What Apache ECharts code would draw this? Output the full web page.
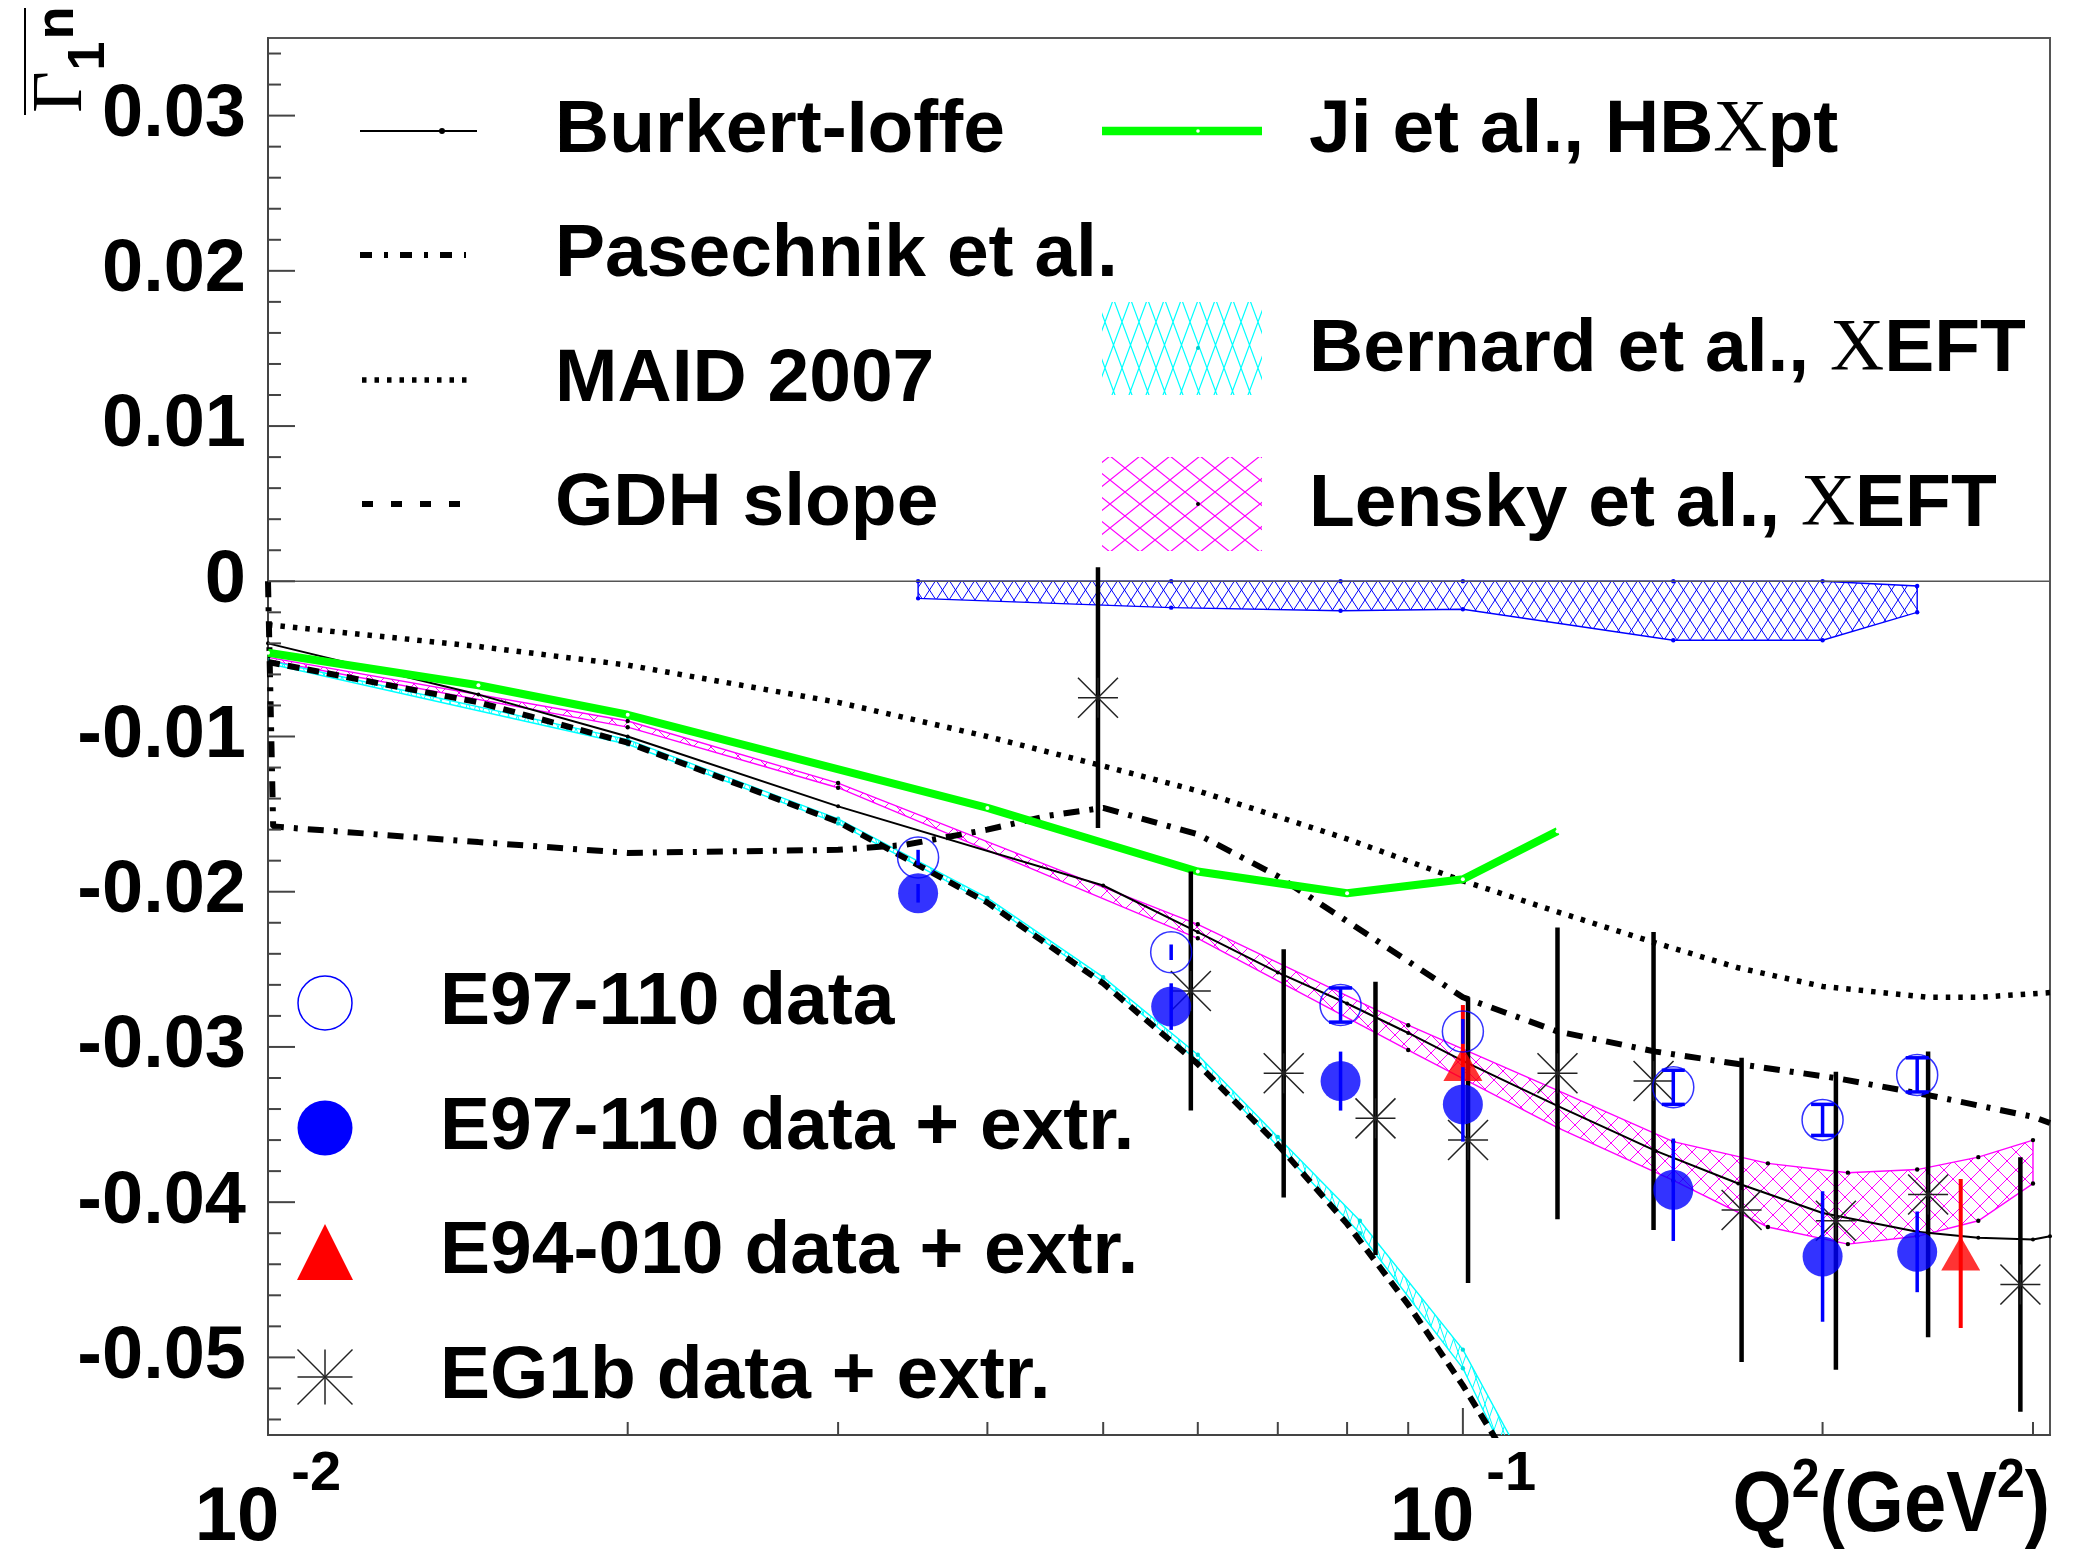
<!DOCTYPE html>
<html><head><meta charset="utf-8"><title>Gamma1n</title>
<script src="https://cdn.jsdelivr.net/npm/echarts@6/dist/echarts.min.js"></script>
<style>html,body{margin:0;padding:0;background:#fff;} #c{width:2077px;height:1557px;}</style>
</head><body><div id="c"></div>
<script>
// ---------------- data ----------------
const burkertQ2 = [0.01, 0.015, 0.02, 0.03, 0.05, 0.06, 0.07, 0.08, 0.09, 0.1, 0.12, 0.145, 0.17, 0.2, 0.24, 0.27, 0.3, 0.31];
const burkertG1 = [-0.0040, -0.0073, -0.0100, -0.0145, -0.0196, -0.0226, -0.0252, -0.0272, -0.0291, -0.0309, -0.0338, -0.0367, -0.0388, -0.0407, -0.0419, -0.0423, -0.0424, -0.0422];

const jiQ2 = [0.01, 0.015, 0.02, 0.04, 0.06, 0.08, 0.1, 0.12];
const jiG1 = [-0.0046, -0.0067, -0.0086, -0.0146, -0.0187, -0.0201, -0.0192, -0.0161];

const pasechnikQ2 = [0.01, 0.0101, 0.015, 0.02, 0.03, 0.034, 0.04, 0.045, 0.05, 0.06, 0.07, 0.08, 0.1, 0.12, 0.145, 0.17, 0.205, 0.245, 0.3, 0.31];
const pasechnikG1 = [0.0, -0.0158, -0.0168, -0.0175, -0.0173, -0.0170, -0.0160, -0.0151, -0.0146, -0.0163, -0.0190, -0.0219, -0.0268, -0.0290, -0.0303, -0.0311, -0.0320, -0.0331, -0.0345, -0.0349];

const maidQ2 = [0.01, 0.015, 0.02, 0.03, 0.04, 0.05, 0.06, 0.08, 0.1, 0.12, 0.145, 0.17, 0.2, 0.245, 0.27, 0.31];
const maidG1 = [-0.0028, -0.0042, -0.0054, -0.0078, -0.0100, -0.0119, -0.0135, -0.0166, -0.0193, -0.0213, -0.0233, -0.0249, -0.0261, -0.0268, -0.0268, -0.0265];

const gdhQ2 = [0.01, 0.015, 0.02, 0.03, 0.04, 0.05, 0.06, 0.07, 0.08, 0.09, 0.1, 0.11];
const gdhG1 = [-0.0052, -0.0078, -0.0104, -0.0155, -0.0207, -0.0259, -0.0311, -0.0363, -0.0414, -0.0466, -0.0518, -0.0570];

const bernardQ2 = [0.01, 0.02, 0.03, 0.04, 0.05, 0.06, 0.07, 0.082, 0.1, 0.112];
const bernardHi = [-0.0051, -0.0102, -0.0153, -0.0204, -0.0255, -0.0305, -0.0358, -0.0412, -0.0495, -0.0565];
const bernardLo = [-0.0053, -0.0105, -0.0156, -0.0207, -0.0258, -0.0309, -0.0364, -0.0420, -0.0507, -0.0585];

const lenskyQ2 = [0.01, 0.02, 0.03, 0.06, 0.09, 0.12, 0.15, 0.18, 0.21, 0.24, 0.27, 0.30];
const lenskyHi = [-0.0049, -0.0090, -0.0130, -0.0221, -0.0286, -0.0328, -0.0361, -0.0375, -0.0381, -0.0379, -0.0371, -0.0360];
const lenskyLo = [-0.0051, -0.0094, -0.0133, -0.0230, -0.0302, -0.0352, -0.0386, -0.0416, -0.0427, -0.0422, -0.0412, -0.0388];

const blueBandQ2 = [0.035, 0.057, 0.079, 0.1, 0.15, 0.2, 0.24];
const blueBandHi = [0, 0, 0, 0, 0, 0, -0.0003];
const blueBandLo = [-0.0011, -0.0017, -0.0019, -0.0018, -0.0038, -0.0038, -0.0020];

const e97Q2 = [0.035, 0.057, 0.079, 0.1, 0.15, 0.2, 0.24];
const e97Data = [-0.0178, -0.0239, -0.0273, -0.0290, -0.0326, -0.0347, -0.0318];
const e97DataErr = [0.0005, 0.0005, 0.0011, 0.0008, 0.0011, 0.0010, 0.0011];
const e97Extr = [-0.0201, -0.0274, -0.0322, -0.0337, -0.0392, -0.0435, -0.0432];
const e97ExtrErr = [0.0006, 0.0015, 0.0019, 0.0024, 0.0033, 0.0042, 0.0026];

const e94Q2 = [0.1, 0.261];
const e94Extr = [-0.0311, -0.0433];
const e94Err = [0.0038, 0.0048];

const eg1bQ2 = [0.0495, 0.0592, 0.0708, 0.0845, 0.101, 0.12, 0.1444, 0.1711, 0.2052, 0.2451, 0.2928];
const eg1bExtr = [-0.0075, -0.0264, -0.0317, -0.0346, -0.0360, -0.0317, -0.0322, -0.0405, -0.0412, -0.0395, -0.0453];
const eg1bErr = [0.0084, 0.0077, 0.0080, 0.0088, 0.0092, 0.0094, 0.0096, 0.0098, 0.0096, 0.0092, 0.0082];

const xMajorTicks = [0.01, 0.1];
const xMinorTicks = [0.02, 0.03, 0.04, 0.05, 0.06, 0.07, 0.08, 0.09, 0.2, 0.3];
const yLabelValues = [-0.05, -0.04, -0.03, -0.02, -0.01, 0, 0.01, 0.02, 0.03];

const X_MIN = 0.01, X_MAX = 0.31, Y_MIN = -0.055, Y_MAX = 0.035;

// ---------------- helpers ----------------
const zip = (a, b) => a.map((v, i) => [v, b[i]]);
const SANS = '"Liberation Sans", Arial, Helvetica, sans-serif';
const SERIF = '"Liberation Serif", "Times New Roman", serif';

function hatch(w, h, color, lw) {
  const c = document.createElement('canvas');
  c.width = w; c.height = h;
  const g = c.getContext('2d');
  g.strokeStyle = color; g.lineWidth = lw;
  g.beginPath();
  for (let dx = -w; dx <= w; dx += w) {
    g.moveTo(dx, 0); g.lineTo(dx + w, h);
    g.moveTo(dx + w, 0); g.lineTo(dx, h);
  }
  g.stroke();
  return c;
}
const patBlue = hatch(13, 20, '#0000ff', 1);
const patMag = hatch(18, 18, '#ff00ff', 1);
const patCyan = hatch(9, 26, '#00ffff', 1);
const patMagLeg = hatch(30, 24, '#ff00ff', 1.2);
const patCyanLeg = hatch(17, 46, '#00ffff', 1.2);

function bandSeries(q2, hi, lo, color, pattern, dotColor, z) {
  return {
    type: 'custom', z: z, clip: true, silent: true,
    data: [[q2[0], hi[0]]],
    renderItem: function (params, api) {
      const up = q2.map((q, i) => api.coord([q, hi[i]]));
      const dn = q2.map((q, i) => api.coord([q, lo[i]]));
      const pts = up.concat(dn.slice().reverse());
      const children = [{
        type: 'polygon', shape: { points: pts },
        style: { fill: { image: pattern, repeat: 'repeat' }, stroke: color, lineWidth: 1.4 }
      }];
      if (dotColor) {
        up.concat(dn).forEach(p => children.push({ type: 'circle', shape: { cx: p[0], cy: p[1], r: 2.2 }, style: { fill: dotColor } }));
      }
      return { type: 'group', children: children };
    }
  };
}

function errSeries(q2, vals, errs, color, width, cap, z) {
  return {
    type: 'custom', z: z, silent: true, clip: false,
    data: q2.map((q, i) => [q, vals[i], errs[i]]),
    encode: { x: 0, y: 1 },
    renderItem: function (params, api) {
      const x = api.value(0), y = api.value(1), e = api.value(2);
      const t = api.coord([x, y + e]), b = api.coord([x, y - e]);
      const ch = [{ type: 'line', shape: { x1: t[0], y1: t[1], x2: b[0], y2: b[1] }, style: { stroke: color, lineWidth: width } }];
      if (cap && e > 0.0009) {
        ch.push({ type: 'line', shape: { x1: t[0] - cap, y1: t[1], x2: t[0] + cap, y2: t[1] }, style: { stroke: color, lineWidth: width } });
        ch.push({ type: 'line', shape: { x1: b[0] - cap, y1: b[1], x2: b[0] + cap, y2: b[1] }, style: { stroke: color, lineWidth: width } });
      }
      return { type: 'group', children: ch };
    }
  };
}

function asteriskShapes(cx, cy, r, color, lw) {
  return [
    [cx - r, cy, cx + r, cy], [cx, cy - r, cx, cy + r],
    [cx - r, cy - r, cx + r, cy + r], [cx - r, cy + r, cx + r, cy - r]
  ].map(s => ({ type: 'line', shape: { x1: s[0], y1: s[1], x2: s[2], y2: s[3] }, style: { stroke: color, lineWidth: lw } }));
}

function lineSeries(q2, g1, color, width, dash, z, sym, symColor) {
  return {
    type: 'line', z: z, silent: true, clip: true, smooth: false,
    data: zip(q2, g1),
    showSymbol: !!sym, symbol: 'circle', symbolSize: sym || 0,
    itemStyle: { color: symColor || color, borderWidth: 0 },
    lineStyle: { color: color, width: width, type: dash || 'solid', cap: 'butt' },
    emphasis: { disabled: true }
  };
}

// ---------------- chart ----------------
const chart = echarts.init(document.getElementById('c'), null, { renderer: 'canvas', width: 2077, height: 1557 });

const LEG = { fontSize: 75, fontWeight: 'bold', fontFamily: SANS, fill: '#000' };
function legText(x, y, text) {
  return { type: 'text', x: x, y: y, z: 20, style: Object.assign({ text: text, verticalAlign: 'middle', align: 'left' }, LEG) };
}
function legChiText(x, y, pre, post) {
  return {
    type: 'text', x: x, y: y, z: 20,
    style: {
      text: '{a|' + pre + '}{c|Χ}{a|' + post + '}', verticalAlign: 'middle', align: 'left',
      rich: {
        a: { fontSize: 75, fontWeight: 'bold', fontFamily: SANS, fill: '#000', color: '#000' },
        c: { fontSize: 75, fontWeight: 'normal', fontFamily: SERIF, fill: '#000', color: '#000' }
      }
    }
  };
}

const graphics = [
  // top legend, left column
  { type: 'line', z: 20, shape: { x1: 360, y1: 131, x2: 477, y2: 131 }, style: { stroke: '#000', lineWidth: 2 } },
  { type: 'circle', z: 20, shape: { cx: 442, cy: 131, r: 3 }, style: { fill: '#000' } },
  legText(555, 131, 'Burkert-Ioffe'),
  { type: 'line', z: 20, shape: { x1: 360, y1: 255, x2: 466, y2: 255 }, style: { stroke: '#000', lineWidth: 6, lineDash: [12, 12, 4, 12] } },
  legText(555, 255, 'Pasechnik et al.'),
  { type: 'line', z: 20, shape: { x1: 362, y1: 380, x2: 473, y2: 380 }, style: { stroke: '#000', lineWidth: 5.5, lineDash: [4.5, 8] } },
  legText(555, 380, 'MAID 2007'),
  { type: 'line', z: 20, shape: { x1: 362, y1: 504, x2: 470, y2: 504 }, style: { stroke: '#000', lineWidth: 6, lineDash: [11, 18] } },
  legText(555, 504, 'GDH slope'),
  // top legend, right column
  { type: 'line', z: 20, shape: { x1: 1102, y1: 131, x2: 1262, y2: 131 }, style: { stroke: '#00ff00', lineWidth: 8.5 } },
  { type: 'circle', z: 21, shape: { cx: 1198, cy: 131, r: 1.8 }, style: { fill: '#fff' } },
  legChiText(1309, 131, 'Ji et al., HB', 'pt'),
  { type: 'rect', z: 20, shape: { x: 1102, y: 302, width: 160, height: 93 }, style: { fill: { image: patCyanLeg, repeat: 'repeat' } } },
  { type: 'circle', z: 21, shape: { cx: 1198, cy: 348, r: 2 }, style: { fill: '#00cccc' } },
  legChiText(1309, 350, 'Bernard et al., ', 'EFT'),
  { type: 'rect', z: 20, shape: { x: 1102, y: 457, width: 160, height: 94 }, style: { fill: { image: patMagLeg, repeat: 'repeat' } } },
  { type: 'circle', z: 21, shape: { cx: 1198, cy: 504, r: 2 }, style: { fill: '#000' } },
  legChiText(1309, 505, 'Lensky et al., ', 'EFT'),
  // bottom-left legend
  { type: 'circle', z: 20, shape: { cx: 325, cy: 1003, r: 27 }, style: { fill: 'none', stroke: '#0000ff', lineWidth: 1.5 } },
  legText(440, 1003, 'E97-110 data'),
  { type: 'circle', z: 20, shape: { cx: 325, cy: 1128, r: 27.5 }, style: { fill: '#0000ff' } },
  legText(440, 1128, 'E97-110 data + extr.'),
  { type: 'polygon', z: 20, shape: { points: [[325, 1224], [353, 1280], [297, 1280]] }, style: { fill: '#ff0000' } },
  legText(440, 1252, 'E94-010 data + extr.'),
  { type: 'group', z: 20, children: asteriskShapes(325, 1377, 27.5, '#222', 1.5) },
  legText(440, 1377, 'EG1b data + extr.'),
  // y-axis title (rotated)
  {
    type: 'group', x: 84, y: 115, rotation: Math.PI / 2, z: 20,
    children: [
      { type: 'text', x: 23, y: -22, style: { text: 'Γ', fontSize: 72, fontFamily: SERIF, fill: '#000', align: 'center', verticalAlign: 'middle' } },
      { type: 'text', x: 59, y: 6, style: { text: '1', fontSize: 52, fontWeight: 'bold', fontFamily: SANS, fill: '#000', align: 'center', verticalAlign: 'middle' } },
      { type: 'text', x: 92, y: -26, style: { text: 'n', fontSize: 54, fontWeight: 'bold', fontFamily: SANS, fill: '#000', align: 'center', verticalAlign: 'middle' } },
      { type: 'line', shape: { x1: 0, y1: -59, x2: 107, y2: -59 }, style: { stroke: '#000', lineWidth: 2 } }
    ]
  },
  // x-axis title
  {
    type: 'text', x: 2050, y: 1550, z: 20, scaleY: 1.12,
    style: {
      text: '{a|Q}{s|2}{a|(GeV}{s|2}{a|)}', align: 'right', verticalAlign: 'bottom',
      rich: {
        a: { fontSize: 76, fontWeight: 'bold', fontFamily: SANS, color: '#000', fill: '#000', lineHeight: 76, verticalAlign: 'bottom' },
        s: { fontSize: 50, fontWeight: 'bold', fontFamily: SANS, color: '#000', fill: '#000', lineHeight: 50, verticalAlign: 'bottom', padding: [0, 0, 36, 0] }
      }
    }
  }
];

const option = {
  animation: false,
  backgroundColor: '#ffffff',
  grid: { left: 268, top: 38, width: 1782, height: 1400, show: true, borderColor: '#555', borderWidth: 2, backgroundColor: 'transparent', containLabel: false },
  xAxis: {
    type: 'log', logBase: 10, min: X_MIN, max: X_MAX,
    axisLine: { show: true, onZero: false, lineStyle: { color: '#444', width: 2 } },
    axisTick: { show: false }, splitLine: { show: false }, minorTick: { show: false }, minorSplitLine: { show: false },
    axisLabel: {
      show: true, margin: 46, showMinLabel: true, showMaxLabel: true,
      formatter: function (v) {
        const e = Math.log10(v), r = Math.round(e);
        if (Math.abs(e - r) > 1e-6) return '';
        return '{b|10}{s|' + r + '}';
      },
      rich: {
        b: { fontSize: 76, fontWeight: 'bold', fontFamily: SANS, color: '#000', lineHeight: 76, verticalAlign: 'bottom' },
        s: { fontSize: 56, fontWeight: 'bold', fontFamily: SANS, color: '#000', lineHeight: 56, verticalAlign: 'bottom', padding: [0, 0, 54, 12] }
      }
    }
  },
  yAxis: {
    type: 'value', min: Y_MIN, max: Y_MAX, interval: 0.005,
    axisLine: { show: true, onZero: false, lineStyle: { color: '#444', width: 2 } },
    axisTick: { show: false }, splitLine: { show: false },
    axisLabel: {
      show: true, margin: 22, color: '#000', fontSize: 74, fontWeight: 'bold', fontFamily: SANS,
      showMinLabel: true, showMaxLabel: true,
      formatter: function (v) {
        const k = Math.round(v * 1000);
        if (k % 10 !== 0) return '';
        const lv = yLabelValues.find(t => Math.round(t * 1000) === k);
        if (lv === undefined) return '';
        return lv === 0 ? '0' : lv.toFixed(2);
      }
    }
  },
  graphic: graphics,
  series: [
    bandSeries(lenskyQ2, lenskyHi, lenskyLo, '#ff00ff', patMag, '#000', 1),
    bandSeries(bernardQ2, bernardHi, bernardLo, '#00ffff', patCyan, '#00dddd', 1),
    bandSeries(blueBandQ2, blueBandHi, blueBandLo, '#0000ff', patBlue, '#0000ff', 1),
    lineSeries([X_MIN, X_MAX], [0, 0], '#555', 1.5, 'solid', 2),
    lineSeries(maidQ2, maidG1, '#000', 5.5, [4.5, 8], 2),
    lineSeries(pasechnikQ2, pasechnikG1, '#000', 6, [16, 10, 4, 10], 2),
    lineSeries(gdhQ2, gdhG1, '#000', 6, [12, 8], 2),
    lineSeries(burkertQ2, burkertG1, '#000', 2, 'solid', 3, 4, '#000'),
    lineSeries(jiQ2, jiG1, '#00ff00', 8, 'solid', 3, 4, '#ffffff'),
    // EG1b: error bars + asterisks
    {
      type: 'custom', z: 4, silent: true, clip: false,
      data: eg1bQ2.map((q, i) => [q, eg1bExtr[i], eg1bErr[i]]),
      encode: { x: 0, y: 1 },
      renderItem: function (params, api) {
        const x = api.value(0), y = api.value(1), e = api.value(2);
        const c = api.coord([x, y]), t = api.coord([x, y + e]), b = api.coord([x, y - e]);
        const ch = [{ type: 'line', shape: { x1: t[0], y1: t[1], x2: b[0], y2: b[1] }, style: { stroke: '#000', lineWidth: 4.5 } }];
        return { type: 'group', children: ch.concat(asteriskShapes(c[0], c[1], 20, '#222', 1.5)) };
      }
    },
    // E94-010
    errSeries(e94Q2, e94Extr, e94Err, '#ff0000', 4, 0, 5),
    { type: 'scatter', z: 5, silent: true, data: zip(e94Q2, e94Extr), symbol: 'triangle', symbolSize: [39, 34], itemStyle: { color: '#ff0000' } },
    // E97-110 data (open)
    errSeries(e97Q2, e97Data, e97DataErr, '#0000ff', 3.5, 11.5, 6),
    { type: 'scatter', z: 6, silent: true, data: zip(e97Q2, e97Data), symbol: 'circle', symbolSize: 41, itemStyle: { color: 'rgba(0,0,0,0)', borderColor: '#0000ff', borderWidth: 1.5 } },
    // E97-110 data + extr. (filled)
    errSeries(e97Q2, e97Extr, e97ExtrErr, '#0000ff', 3.5, 0, 7),
    { type: 'scatter', z: 7, silent: true, data: zip(e97Q2, e97Extr), symbol: 'circle', symbolSize: 40, itemStyle: { color: '#0000ff' } },
    // axis ticks (ROOT style: major + minor, left and bottom only)
    {
      type: 'custom', z: 10, silent: true, clip: false,
      data: [[0.05, 0]],
      renderItem: function (params, api) {
        const ch = [];
        const st = { stroke: '#444', lineWidth: 2 };
        xMajorTicks.concat(xMinorTicks).forEach(q => {
          const p = api.coord([q, Y_MIN]);
          const len = xMajorTicks.indexOf(q) >= 0 ? 27 : 13;
          ch.push({ type: 'line', shape: { x1: p[0], y1: p[1], x2: p[0], y2: p[1] - len }, style: st });
        });
        for (let k = -27; k <= 17; k++) {
          const p = api.coord([X_MIN, k * 0.002]);
          const len = (k % 5 === 0) ? 27 : 13;
          ch.push({ type: 'line', shape: { x1: p[0], y1: p[1], x2: p[0] + len, y2: p[1] }, style: st });
        }
        return { type: 'group', children: ch };
      }
    }
  ]
};
chart.setOption(option);
</script>
</body></html>
